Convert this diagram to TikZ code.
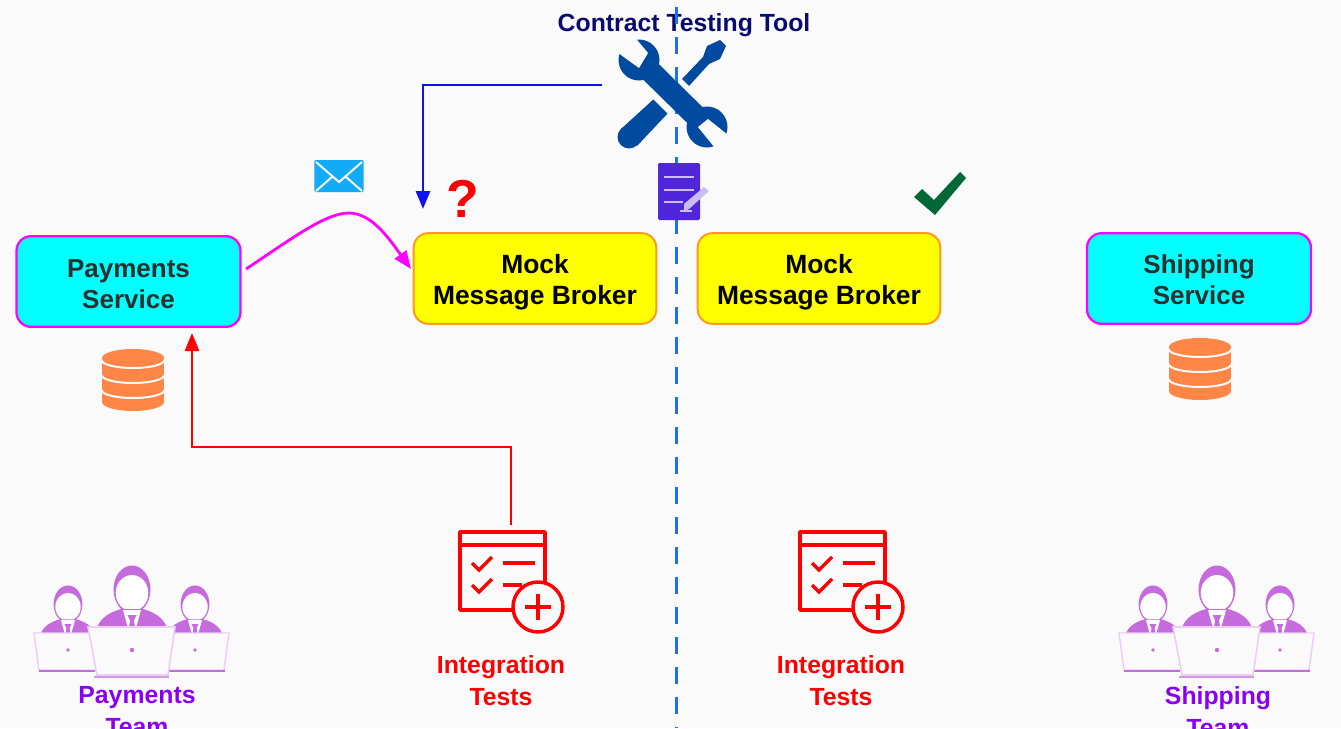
\documentclass[tikz,border=0pt]{standalone}
\usepackage{fontspec}
\setmainfont{Liberation Sans}
\usetikzlibrary{arrows.meta}
\definecolor{bg}{HTML}{FAFAFA}
\definecolor{toolblue}{HTML}{004A9F}
\definecolor{docblue}{HTML}{4F26D9}
\definecolor{doclite}{HTML}{C9BDF3}
\definecolor{mailblue}{HTML}{12ABF5}
\definecolor{dbor}{HTML}{FF8647}
\definecolor{pplp}{HTML}{C66BDD}
\definecolor{lapl}{HTML}{EBCFF3}
\definecolor{navy}{HTML}{0A0A6E}
\definecolor{teamp}{HTML}{8A00F5}
\definecolor{dashb}{HTML}{1E73E0}
\definecolor{orangeb}{HTML}{FF9A1A}
\definecolor{okgreen}{HTML}{006837}
\definecolor{pureM}{HTML}{FF00FF}
\definecolor{pureC}{HTML}{00FFFF}
\definecolor{pureY}{HTML}{FFFF00}
\definecolor{pureR}{HTML}{FF0000}
\definecolor{pureB}{HTML}{1010F5}
\tikzset{
  svcbox/.style={draw=pureM,line width=1.7pt,fill=pureC,rounded corners=11pt,minimum width=168pt,minimum height=68pt,align=center,inner sep=0pt,
    font=\fontsize{19.5}{23.25}\selectfont\bfseries,text=black!82},
  mockbox/.style={draw=orangeb,line width=1.5pt,fill=pureY,rounded corners=11pt,minimum width=182pt,minimum height=68pt,align=center,inner sep=0pt,
    font=\fontsize{19.8}{23.25}\selectfont\bfseries,text=black},
  lbl/.style={align=center,inner sep=0pt,font=\fontsize{18.6}{24}\selectfont\bfseries},
  conn/.style={line width=2.1pt,-{Triangle[length=13.5pt,width=10.5pt]}},
  pics/staff/.style={code={
    \fill[pplp] (0,1.5) ellipse[x radius=18.5,y radius=24];
    \fill[white] (0,5) ellipse[x radius=16.3,y radius=18];
    \fill[pplp] (-35,40) .. controls (-32,30) and (-22,24) .. (-11,21) -- (11,21) .. controls (22,24) and (32,30) .. (35,40) -- cycle;
    \fill[white] (-9,22) -- (9,22) -- (4,40) -- (-4,40) -- cycle;
    \fill[pplp] (-4.5,27) -- (4.5,27) -- (2,32) -- (3,40) -- (-3,40) -- (-2,32) -- cycle;
  }},
  pics/teamicon/.style={code={
    \pic[scale=.78] at (-64,15) {staff};
    \pic[scale=.78] at (63,15) {staff};
    \draw[lapl,line width=1.1pt,fill=bg] (-98,45) -- (-40,45) -- (-35,82) -- (-93,82) -- cycle;
    \draw[lapl,line width=1.1pt,fill=bg] (97,45) -- (40,45) -- (35,82) -- (92,82) -- cycle;
    \fill[pplp] (-64,62) circle[radius=1.8];
    \fill[pplp] (63,62) circle[radius=1.8];
    \draw[pplp,line width=1.4pt] (-93,83) -- (-37,83);
    \draw[pplp,line width=1.4pt] (37,83) -- (93,83);
    \pic at (0,0) {staff};
    \draw[lapl,line width=1.2pt,fill=bg] (-44,39) -- (43,39) -- (36,87) -- (-35,87) -- cycle;
    \fill[pplp] (0,62) circle[radius=2.2];
    \draw[pplp!70,line width=1.5pt] (-38,89) -- (37,89);
  }},
  pics/testicon/.style={code={
    \begin{scope}[pureR,line width=2.6pt]
      \draw[line join=round] (0,0) rectangle (85,78);
      \draw (0,13) -- (85,13);
      \draw (12,31) -- (19,38) -- (32,25);
      \draw (12,53) -- (19,60) -- (32,47);
      \draw (43,31) -- (75,31);
      \draw (43,53) -- (62,53);
      \draw[fill=bg] (78,75) circle[radius=25];
      \draw (65,75) -- (91,75) (78,62) -- (78,88);
    \end{scope}
  }},
  pics/dbicon/.style={code={
    \fill[dbor] (0,9) ellipse[x radius=31,y radius=9];
    \fill[dbor] (-31,9) rectangle (31,53);
    \fill[dbor] (0,53) ellipse[x radius=31,y radius=9];
    \foreach \yy in {11,26,41}
      \draw[bg,line width=1.5pt] (-31.5,\yy) arc[start angle=180,end angle=0,x radius=31.5,y radius=8];
  }}
}
\begin{document}
\begin{tikzpicture}[x=.75pt,y=-.75pt]
\useasboundingbox (0,0) rectangle (1341,728);
\clip (0,0) rectangle (1341,728);
\fill[bg] (0,0) rectangle (1341,728);

% title
\node[lbl,text=navy] (title) at (684,25) {Contract Testing Tool};

% dashed divider
\coordinate (divtop) at (676,7);
\coordinate (divbot) at (676,728);
\draw[dashb,line width=2.25pt,dash pattern=on 12.75pt off 9.75pt] (divtop) -- (divbot);

% tool icon
\begin{scope}[toolblue]
  \fill (656,97) -- (621,129) -- (637,146) -- (669,112) -- cycle;
  \fill (629,137) circle[radius=11.5];
  \fill (682,79) -- (703,57) -- (707,46) -- (720,40) -- (726,46) -- (720,59) -- (709,64) -- (689,86) -- cycle;
  \draw[bg,line width=3pt] (650,93) -- (672,115);
  \draw[line width=16.5pt] (639,60) -- (707,127);
  \fill (639,60) circle[radius=20.5];
  \fill (707,127) circle[radius=20.5];
  \fill[bg] (614,50) -- (639,68) -- (648,53) -- (633,35) -- cycle;
  \fill[bg] (698,127) -- (708,119) -- (733,139) -- (719,153) -- cycle;
\end{scope}
\coordinate (toolleft) at (602,85);

% document icon
\node[fill=docblue,rounded corners=1pt,minimum width=31.5pt,minimum height=42.75pt,inner sep=0pt] (doc) at (679,191.5) {};
\draw[doclite,line width=1.4pt] (664,177) -- (694,177) (664,190) -- (694,190) (664,202) -- (683,202);
\fill[doclite] (684,204) -- (704,187) -- (709,191) -- (689,209) -- (684,211) -- cycle;
\draw[doclite,line width=1.2pt] (680,211) -- (692,211);

% envelope
\node[fill=mailblue,rounded corners=1pt,minimum width=37pt,minimum height=24pt,inner sep=0pt] (mail) at (339,176) {};
\draw[bg,line width=1.5pt] (316,162) -- (339,182) -- (362,162) (316,191) -- (332,177) (362,191) -- (346,177);

% service boxes
\node[svcbox] (pay) at (128.5,281.5) {\rule{0pt}{17.5pt}Payments\\Service};
\node[mockbox] (mocka) at (535,278.5) {\rule{0pt}{19.5pt}Mock\\Message Broker};
\node[mockbox] (mockb) at (819,278.5) {\rule{0pt}{19.5pt}Mock\\Message Broker};
\node[svcbox] (ship) at (1199,278.5) {\rule{0pt}{16pt}Shipping\\Service};

% marks
\node[inner sep=0pt,text=pureR,font=\fontsize{40}{40}\selectfont\bfseries] (qmark) at (463,199) {?};
\fill[okgreen] (914,197) -- (922,189) -- (934,200) -- (960,172) -- (966,178) -- (935,215) -- cycle;

% databases
\pic at (133,349) {dbicon};
\pic at (1200,338) {dbicon};

% tests
\pic at (460,532) {testicon};
\pic at (800,532) {testicon};
\coordinate (testtop) at (511,525);
\node[lbl,text=pureR] (testa) at (501,681) {Integration\\Tests};
\node[lbl,text=pureR] (testb) at (841,681) {Integration\\Tests};

% teams
\pic at (132,588) {teamicon};
\pic at (1217,588) {teamicon};
\node[lbl,text=teamp,anchor=north] (teama) at (137,686) {Payments\\Team};
\node[lbl,text=teamp,anchor=north] (teamb) at (1218,686) {Shipping\\Team};

% connectors
\coordinate (blueend) at (423,209);
\coordinate (redend) at (192,333);
\coordinate (magstart) at (246,269);
\coordinate (magend) at (411,269);
\coordinate (magtop) at (349,213);
\draw[conn,pureB] (toolleft) -- (423,85) -- (blueend);
\draw[conn,pureR] (testtop) -- (511,447) -- (192,447) -- (redend);
\draw[conn,pureM] (magstart) .. controls (290,240) and (325,213) .. (magtop) .. controls (372,213) and (390,240) .. (magend);
\end{tikzpicture}
\end{document}
